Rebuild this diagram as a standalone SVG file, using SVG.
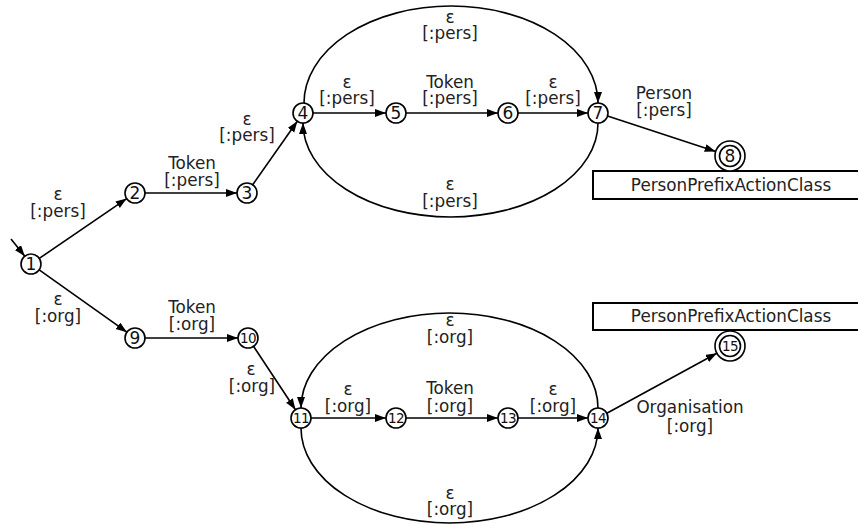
<svg xmlns="http://www.w3.org/2000/svg" width="858" height="524" viewBox="0 0 858 524">
<style>
.bg{fill:#fff}
.n circle{fill:#fff;stroke:#000;stroke-width:1.6}
.n text{font-family:"DejaVu Sans",sans-serif;font-size:17px;text-anchor:middle;fill:#111}
.n text.s{font-size:13.5px;letter-spacing:-0.7px}
.e path{fill:none;stroke:#000;stroke-width:1.6;marker-end:url(#ah)}
.lbl text{font-family:"DejaVu Sans",sans-serif;font-size:16.8px;text-anchor:middle;fill:#222}
.box rect{fill:#fff;stroke:#000;stroke-width:2}
.box text{font-family:"DejaVu Sans",sans-serif;font-size:16.8px;text-anchor:middle;fill:#222}
</style>
<defs>
<marker id="ah" markerUnits="userSpaceOnUse" markerWidth="12" markerHeight="9" refX="11" refY="4" orient="auto">
<path d="M0,0 L11,4 L0,8 z" fill="#000"/>
</marker>
</defs>
<rect class="bg" x="0" y="0" width="858" height="524"/>
<g id="connectors" class="e">
<path d="M11,239 L24.8,256.2"/>
<path d="M39.3,258.4 L126.7,198.6"/>
<path d="M145,193 L237,193"/>
<path d="M252.7,184.8 L297.3,121.2"/>
<path d="M313,113 L386,113"/>
<path d="M406,113 L498,113"/>
<path d="M518,113 L588,113"/>
<path d="M304,103 A147,97 0 0 1 598,103"/>
<path d="M598,123 A147.5,94 0 0 1 303,123"/>
<path d="M607.5,116.1 L715.7,151.4"/>
<path d="M39.2,269.8 L126.9,332.2"/>
<path d="M145,338 L238,338"/>
<path d="M253.5,346.3 L295.5,409.7"/>
<path d="M311,418 L386,418"/>
<path d="M406,418 L498,418"/>
<path d="M518,418 L588,418"/>
<path d="M598,408 A148.5,95 0 0 0 301,408"/>
<path d="M301,428 A148.5,95 0 0 0 598,428"/>
<path d="M606.8,413.2 L716.8,353.2"/>
</g>
<g id="labels" class="lbl">
<text x="58" y="200">ε<tspan x="58" dy="17">[:pers]</tspan></text>
<text x="192" y="169">Token<tspan x="192" dy="17">[:pers]</tspan></text>
<text x="247" y="125">ε<tspan x="247" dy="16">[:pers]</tspan></text>
<text x="347" y="88">ε<tspan x="347" dy="16">[:pers]</tspan></text>
<text x="450" y="88">Token<tspan x="450" dy="16">[:pers]</tspan></text>
<text x="553" y="88">ε<tspan x="553" dy="16">[:pers]</tspan></text>
<text x="450" y="23">ε<tspan x="450" dy="16">[:pers]</tspan></text>
<text x="450" y="190">ε<tspan x="450" dy="17">[:pers]</tspan></text>
<text x="664" y="99">Person<tspan x="664" dy="17">[:pers]</tspan></text>
<text x="58" y="305">ε<tspan x="58" dy="17">[:org]</tspan></text>
<text x="192" y="313">Token<tspan x="192" dy="17">[:org]</tspan></text>
<text x="251" y="375">ε<tspan x="252" dy="17">[:org]</tspan></text>
<text x="348" y="395">ε<tspan x="348" dy="17">[:org]</tspan></text>
<text x="450" y="394">Token<tspan x="450" dy="18">[:org]</tspan></text>
<text x="553" y="395">ε<tspan x="553" dy="17">[:org]</tspan></text>
<text x="450" y="326">ε<tspan x="450" dy="17">[:org]</tspan></text>
<text x="450" y="499">ε<tspan x="450" dy="16">[:org]</tspan></text>
<text x="690" y="413">Organisation<tspan x="690" dy="19">[:org]</tspan></text>
</g>
<g id="box8" class="box"><rect x="593" y="171" width="280" height="28"/><text x="731" y="191">PersonPrefixActionClass</text></g>
<g id="box15" class="box"><rect x="593" y="303" width="280" height="27"/><text x="731" y="322">PersonPrefixActionClass</text></g>
<g id="n1" class="n"><circle cx="31" cy="264" r="10"/><text x="31" y="270">1</text></g>
<g id="n2" class="n"><circle cx="135" cy="193" r="10"/><text x="135" y="199">2</text></g>
<g id="n3" class="n"><circle cx="247" cy="193" r="10"/><text x="247" y="199">3</text></g>
<g id="n4" class="n"><circle cx="303" cy="113" r="10"/><text x="303" y="119">4</text></g>
<g id="n5" class="n"><circle cx="396" cy="113" r="10"/><text x="396" y="119">5</text></g>
<g id="n6" class="n"><circle cx="508" cy="113" r="10"/><text x="508" y="119">6</text></g>
<g id="n7" class="n"><circle cx="598" cy="113" r="10"/><text x="598" y="119">7</text></g>
<g id="n8" class="n"><circle cx="730" cy="156" r="15"/><circle cx="730" cy="156" r="10.5"/><text x="730" y="162">8</text></g>
<g id="n9" class="n"><circle cx="135" cy="338" r="10"/><text x="135" y="344">9</text></g>
<g id="n10" class="n"><circle cx="248" cy="338" r="10"/><text class="s" x="248" y="343">10</text></g>
<g id="n11" class="n"><circle cx="301" cy="418" r="10"/><text class="s" x="301" y="423">11</text></g>
<g id="n12" class="n"><circle cx="396" cy="418" r="10"/><text class="s" x="396" y="423">12</text></g>
<g id="n13" class="n"><circle cx="508" cy="418" r="10"/><text class="s" x="508" y="423">13</text></g>
<g id="n14" class="n"><circle cx="598" cy="418" r="10"/><text class="s" x="598" y="423">14</text></g>
<g id="n15" class="n"><circle cx="730" cy="346" r="15"/><circle cx="730" cy="346" r="10.5"/><text class="s" x="730" y="351">15</text></g>
</svg>
